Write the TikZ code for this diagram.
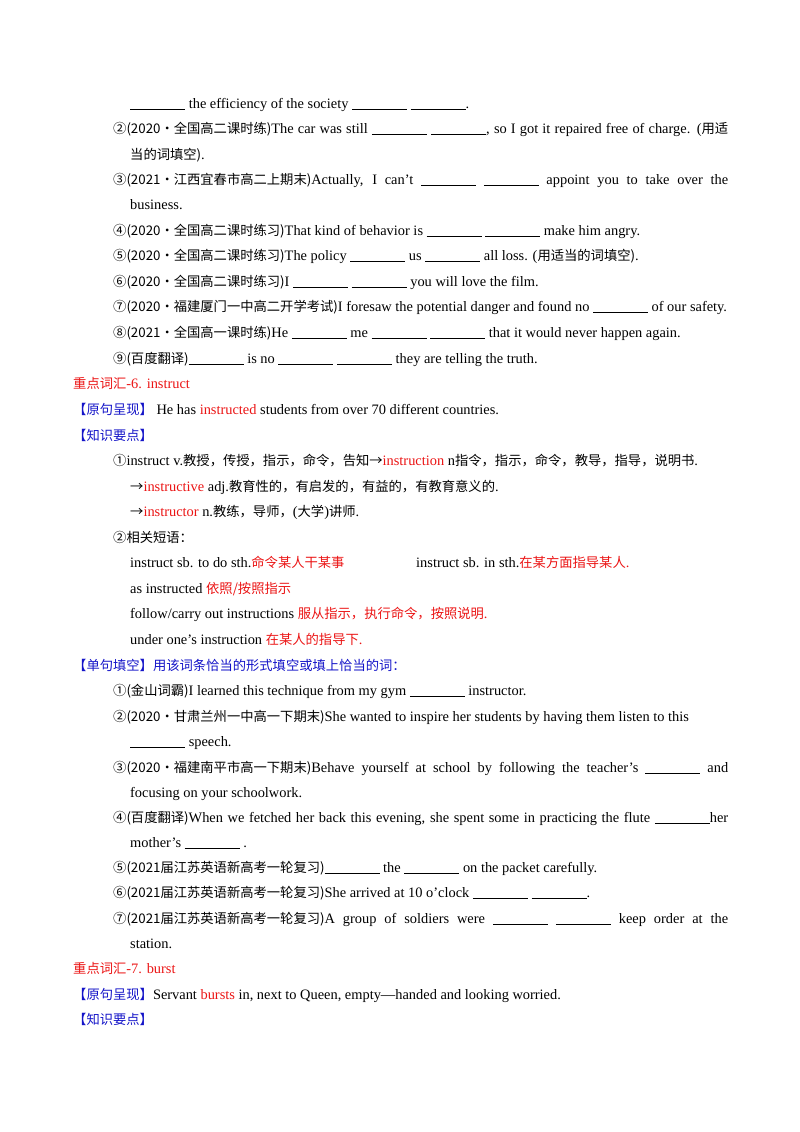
\documentclass[tikz,border=0pt]{standalone}
\usepackage{fontspec}
\setmainfont{Liberation Serif}
\newfontfamily\cjk{Noto Sans CJK SC}
\definecolor{rd}{RGB}{235,20,20}
\definecolor{bl}{RGB}{20,20,200}
\newcommand\zh[1]{{\cjk\fontsize{13.3}{15}\selectfont #1}}
\newcommand\rr[1]{\textcolor{rd}{#1}}
\newcommand\bb[1]{\textcolor{bl}{#1}}
\newcommand\bl{\underline{\hspace{55pt}}}
\newcommand\jj[1]{\makebox[615pt][s]{#1}}
\begin{document}
\begin{tikzpicture}[x=1pt,y=-1pt,
  t/.style={anchor=base west,inner sep=0pt,font=\fontsize{14.4}{16}\selectfont}]
\useasboundingbox (0,0) rectangle (800,1132);
\node[t] (l1) at (130,108) {\bl{} the efficiency of the society \bl{} \bl.};
\node[t] (l2) at (113,133) {\jj{\zh{②(2020·全国高二课时练)}The car was still \bl{} \bl, so I got it repaired free of charge. (\zh{用适}}};
\node[t] (l3) at (130,159) {\zh{当的词填空)}.};
\node[t] (l4) at (113,184) {\jj{\zh{③(2021·江西宜春市高二上期末)}Actually, I can’t \bl{} \bl{} appoint you to take over the}};
\node[t] (l5) at (130,209) {business.};
\node[t] (l6) at (113,235) {\zh{④(2020·全国高二课时练习)}That kind of behavior is \bl{} \bl{} make him angry.};
\node[t] (l7) at (113,260) {\zh{⑤(2020·全国高二课时练习)}The policy \bl{} us \bl{} all loss. (\zh{用适当的词填空)}.};
\node[t] (l8) at (113,286) {\zh{⑥(2020·全国高二课时练习)}I \bl{} \bl{} you will love the film.};
\node[t] (l9) at (113,311) {\zh{⑦(2020·福建厦门一中高二开学考试)}I foresaw the potential danger and found no \bl{} of our safety.};
\node[t] (l10) at (113,337) {\zh{⑧(2021·全国高一课时练)}He \bl{} me \bl{} \bl{} that it would never happen again.};
\node[t] (l11) at (113,363) {\zh{⑨(百度翻译)}\bl{} is no \bl{} \bl{} they are telling the truth.};
\node[t] (h6) at (73,388) {\rr{\zh{重点词汇}-6. instruct}};
\node[t] (y6) at (73,414) {\bb{\zh{【原句呈现】}} He has \rr{instructed} students from over 70 different countries.};
\node[t] (z6) at (73,440) {\bb{\zh{【知识要点】}}};
\node[t] (k1) at (113,465) {\zh{①}instruct v.\zh{教授，传授，指示，命令，告知→}\rr{instruction} n\zh{指令，指示，命令，教导，指导，说明书}.};
\node[t] (k2) at (130,491) {\zh{→}\rr{instructive} adj.\zh{教育性的，有启发的，有益的，有教育意义的}.};
\node[t] (k3) at (130,516) {\zh{→}\rr{instructor} n.\zh{教练，导师，}(\zh{大学})\zh{讲师}.};
\node[t] (k4) at (113,542) {\zh{②相关短语：}};
\node[t] (k5) at (130,567) {instruct sb. to do sth.\rr{\zh{命令某人干某事}}};
\node[t] (k5b) at (416,567) {instruct sb. in sth.\rr{\zh{在某方面指导某人}.}};
\node[t] (k6) at (130,593) {as instructed \rr{\zh{依照/按照指示}}};
\node[t] (k7) at (130,618) {follow/carry out instructions \rr{\zh{服从指示，执行命令，按照说明}.}};
\node[t] (k8) at (130,644) {under one’s instruction \rr{\zh{在某人的指导下}.}};
\node[t] (d6) at (73,670) {\bb{\zh{【单句填空】用该词条恰当的形式填空或填上恰当的词：}}};
\node[t] (q1) at (113,695) {\zh{①(金山词霸)}I learned this technique from my gym \bl{} instructor.};
\node[t] (q2) at (113,721) {\zh{②(2020·甘肃兰州一中高一下期末)}She wanted to inspire her students by having them listen to this};
\node[t] (q2b) at (130,746) {\bl{} speech.};
\node[t] (q3) at (113,772) {\jj{\zh{③(2020·福建南平市高一下期末)}Behave yourself at school by following the teacher’s \bl{} and}};
\node[t] (q3b) at (130,797) {focusing on your schoolwork.};
\node[t] (q4) at (113,822) {\jj{\zh{④(百度翻译)}When we fetched her back this evening, she spent some in practicing the flute \bl her}};
\node[t] (q4b) at (130,847) {mother’s \bl{} .};
\node[t] (q5) at (113,872) {\zh{⑤(2021届江苏英语新高考一轮复习)}\bl{} the \bl{} on the packet carefully.};
\node[t] (q6) at (113,897) {\zh{⑥(2021届江苏英语新高考一轮复习)}She arrived at 10 o’clock \bl{} \bl.};
\node[t] (q7) at (113,923) {\jj{\zh{⑦(2021届江苏英语新高考一轮复习)}A group of soldiers were \bl{} \bl{} keep order at the}};
\node[t] (q7b) at (130,948) {station.};
\node[t] (h7) at (73,973) {\rr{\zh{重点词汇}-7. burst}};
\node[t] (y7) at (73,999) {\bb{\zh{【原句呈现】}}Servant \rr{bursts} in, next to Queen, empty—handed and looking worried.};
\node[t] (z7) at (73,1024) {\bb{\zh{【知识要点】}}};
\end{tikzpicture}
\end{document}
